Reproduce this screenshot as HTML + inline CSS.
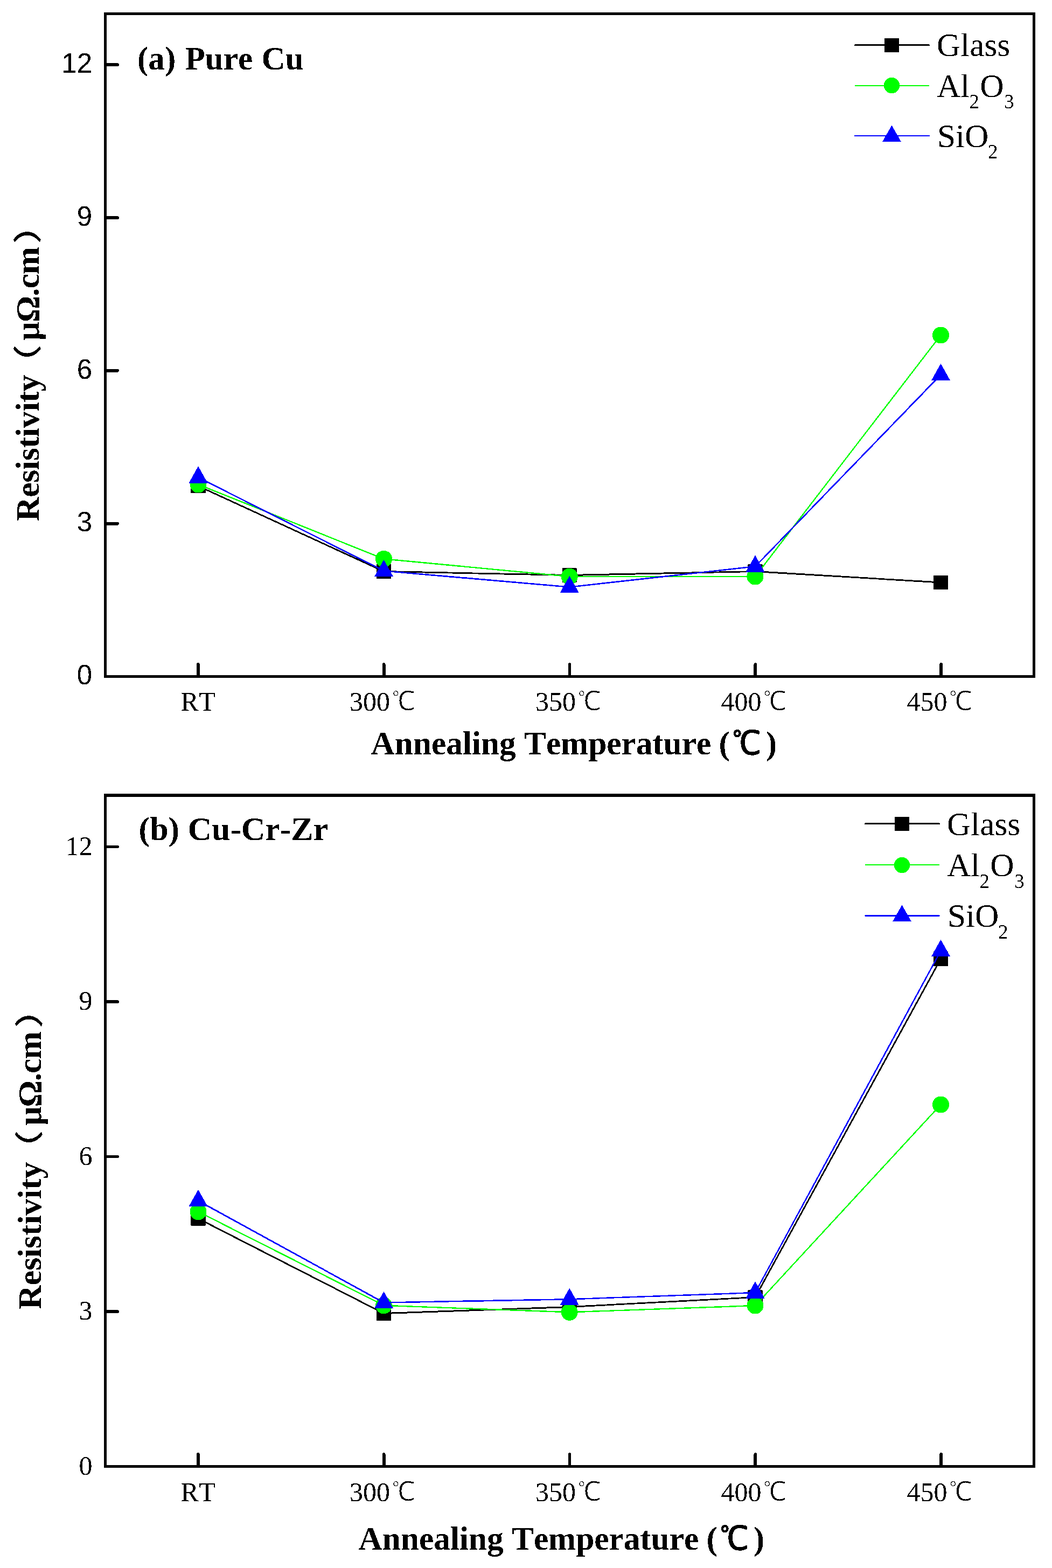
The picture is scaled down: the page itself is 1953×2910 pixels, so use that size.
<!DOCTYPE html>
<html lang="en">
<head>
<meta charset="utf-8">
<title>Resistivity vs Annealing Temperature</title>
<style>
html,body{margin:0;padding:0;background:#fff}
body{width:1953px;height:2910px;overflow:hidden}
svg{display:block}
text{fill:#000;font-family:"Liberation Serif", "Noto Serif CJK SC", serif;white-space:pre;font-kerning:none;font-variant-ligatures:none;stroke:#000;stroke-width:0;stroke-linejoin:round}
.ya{font-family:"Liberation Sans", "Noto Sans CJK SC", sans-serif;font-size:51px}
.yb{font-size:50px}
.xt{font-size:50px}
.dc{font-family:"Liberation Serif", "WenQuanYi Zen Hei", "Noto Sans CJK SC", sans-serif;font-size:49.5px;stroke:#fff;stroke-width:1.1px}
.dcb{font-family:"Liberation Serif", "WenQuanYi Zen Hei", "Noto Sans CJK SC", sans-serif;font-size:61.5px;font-weight:400;stroke:#000;stroke-width:1.5px}
.bt{font-weight:700}
.fw{font-family:"Liberation Serif", "Noto Sans CJK SC", "WenQuanYi Zen Hei", sans-serif;font-weight:500;font-size:53px;letter-spacing:0}
.lg{font-size:61.3px}
.sb{font-size:37px}
</style>
</head>
<body>
<svg width="1953" height="2910" viewBox="0 0 1953 2910">
<defs>
<filter id="bin" x="0" y="0" width="1953" height="2910" filterUnits="userSpaceOnUse" color-interpolation-filters="sRGB"><feComponentTransfer><feFuncA type="discrete" tableValues="0 1"/></feComponentTransfer></filter>
<filter id="bk" x="0" y="0" width="1953" height="2910" filterUnits="userSpaceOnUse" color-interpolation-filters="sRGB"><feComponentTransfer><feFuncR type="discrete" tableValues="0 1"/><feFuncG type="discrete" tableValues="0 1"/><feFuncB type="discrete" tableValues="0 1"/><feFuncA type="discrete" tableValues="0 1"/></feComponentTransfer></filter>
</defs>
<rect width="1953" height="2910" fill="#fff"/>
<g filter="url(#bk)">
<rect x="195.5" y="25.5" width="1724" height="1230" fill="none" stroke="#000" stroke-width="5"/>
<path d="M196 971.65H218.2M196 687.81H218.2M196 403.97H218.2M196 120.12H218.2M367.9 1255V1232.7M712.7 1255V1232.7M1057.5 1255V1232.7M1402.3 1255V1232.7M1747.1 1255V1232.7" fill="none" stroke="#000" stroke-width="5.6" stroke-linecap="round"/>
<text class="ya" x="171" y="1270.3" text-anchor="end">0</text>
<text class="ya" x="171" y="986.45" text-anchor="end">3</text>
<text class="ya" x="171" y="702.61" text-anchor="end">6</text>
<text class="ya" x="171" y="418.77" text-anchor="end">9</text>
<text class="ya" x="171" y="134.92" text-anchor="end">12</text>
<text class="xt" x="335.2" y="1318.6" style="letter-spacing:.9px">RT</text>
<text class="xt" x="649" y="1318.6">300<tspan class="dc" dx="3.5" dy="-0.5" textLength="43.5" lengthAdjust="spacingAndGlyphs">℃</tspan></text>
<text class="xt" x="994" y="1318.6">350<tspan class="dc" dx="3.5" dy="-0.5" textLength="43.5" lengthAdjust="spacingAndGlyphs">℃</tspan></text>
<text class="xt" x="1338.5" y="1318.6">400<tspan class="dc" dx="3.5" dy="-0.5" textLength="43.5" lengthAdjust="spacingAndGlyphs">℃</tspan></text>
<text class="xt" x="1683.5" y="1318.6">450<tspan class="dc" dx="3.5" dy="-0.5" textLength="43.5" lengthAdjust="spacingAndGlyphs">℃</tspan></text>
<text class="bt" style="font-size:61.1px" x="255" y="128.7">(a)<tspan dx="2"> Pure</tspan><tspan dx="1.2"> Cu</tspan></text>
<text class="bt" style="font-size:61.3px" x="688.6" y="1399.8">Annealing Temperature <tspan dx="-1">(</tspan><tspan class="dcb" dx="5" dy="0" textLength="52" lengthAdjust="spacingAndGlyphs">℃</tspan><tspan dx="9.8" dy="0">)</tspan></text>
<text class="bt" style="font-size:61.5px;letter-spacing:-0.2px" transform="translate(72 967) rotate(-90)">Resistivity<tspan class="fw" dx="-15" dy="-1.5" textLength="72" lengthAdjust="spacingAndGlyphs">（</tspan><tspan dx="7" dy="1.5" style="letter-spacing:-1.05px">μΩ.cm</tspan><tspan class="fw" dx="6.2" dy="-1.5" textLength="72" lengthAdjust="spacingAndGlyphs">）</tspan></text>
<polyline points="368,902 712.5,1060.5 1057.2,1067.5 1402,1060.5 1746.5,1081" fill="none" stroke="#000" stroke-width="2.8" stroke-linejoin="round"/>
<rect x="354.5" y="888.8" width="27" height="26.4"/>
<rect x="699" y="1047.3" width="27" height="26.4"/>
<rect x="1043.7" y="1054.3" width="27" height="26.4"/>
<rect x="1388.5" y="1047.3" width="27" height="26.4"/>
<rect x="1733" y="1067.8" width="27" height="26.4"/>
<line x1="1587.5" y1="83.5" x2="1724.5" y2="83.5" stroke="#000" stroke-width="3" stroke-linecap="round"/>
<rect x="1642" y="70.8" width="27" height="26.4"/>
<text class="lg" x="1739" y="103.9">Glass</text>
<text class="lg" x="1739" y="180">Al<tspan class="sb" dy="21" dx="-1">2</tspan><tspan dy="-21" dx="1.5">O</tspan><tspan class="sb" dy="21" dx="0.5">3</tspan></text>
<text class="lg" x="1740" y="273">SiO<tspan class="sb" dy="21" dx="-1.5">2</tspan></text>
<rect x="195.5" y="1475.5" width="1724" height="1246" fill="none" stroke="#000" stroke-width="5"/>
<rect x="193" y="1473" width="1729" height="6"/>
<path d="M196 2434.01H218.2M196 2146.52H218.2M196 1859.03H218.2M196 1571.54H218.2M367.9 2721V2698.7M712.7 2721V2698.7M1057.5 2721V2698.7M1402.3 2721V2698.7M1747.1 2721V2698.7" fill="none" stroke="#000" stroke-width="5.6" stroke-linecap="round"/>
<text class="yb" x="171.5" y="2736.8" text-anchor="end">0</text>
<text class="yb" x="171.5" y="2449.31" text-anchor="end">3</text>
<text class="yb" x="171.5" y="2161.82" text-anchor="end">6</text>
<text class="yb" x="171.5" y="1874.33" text-anchor="end">9</text>
<text class="yb" x="171.5" y="1586.84" text-anchor="end">12</text>
<text class="xt" x="335.2" y="2785.5" style="letter-spacing:.9px">RT</text>
<text class="xt" x="649" y="2785.5">300<tspan class="dc" dx="3.5" dy="-0.5" textLength="43.5" lengthAdjust="spacingAndGlyphs">℃</tspan></text>
<text class="xt" x="994" y="2785.5">350<tspan class="dc" dx="3.5" dy="-0.5" textLength="43.5" lengthAdjust="spacingAndGlyphs">℃</tspan></text>
<text class="xt" x="1338.5" y="2785.5">400<tspan class="dc" dx="3.5" dy="-0.5" textLength="43.5" lengthAdjust="spacingAndGlyphs">℃</tspan></text>
<text class="xt" x="1683.5" y="2785.5">450<tspan class="dc" dx="3.5" dy="-0.5" textLength="43.5" lengthAdjust="spacingAndGlyphs">℃</tspan></text>
<text class="bt" style="font-size:61.7px" x="257.6" y="1559.2">(b) Cu-Cr-Zr</text>
<text class="bt" style="font-size:61.3px" x="665.6" y="2875.8">Annealing Temperature <tspan dx="-1">(</tspan><tspan class="dcb" dx="5" dy="0" textLength="52" lengthAdjust="spacingAndGlyphs">℃</tspan><tspan dx="9.8" dy="0">)</tspan></text>
<text class="bt" style="font-size:62px;letter-spacing:-0.2px" transform="translate(76 2429.8) rotate(-90)">Resistivity<tspan class="fw" dx="-12.5" dy="-1.6" textLength="72" lengthAdjust="spacingAndGlyphs">（</tspan><tspan dx="8.5" dy="1.6" style="letter-spacing:-1.3px">μΩ.cm</tspan><tspan class="fw" dx="7.4" dy="-1.6" textLength="72" lengthAdjust="spacingAndGlyphs">）</tspan></text>
<polyline points="368,2261.5 712.5,2437.5 1057.2,2425.5 1402,2407.5 1746.5,1779.5" fill="none" stroke="#000" stroke-width="2.8" stroke-linejoin="round"/>
<rect x="354.5" y="2248.3" width="27" height="26.4"/>
<rect x="699" y="2424.3" width="27" height="26.4"/>
<rect x="1043.7" y="2412.3" width="27" height="26.4"/>
<rect x="1388.5" y="2394.3" width="27" height="26.4"/>
<rect x="1733" y="1766.3" width="27" height="26.4"/>
<line x1="1606.5" y1="1528.5" x2="1743.5" y2="1528.5" stroke="#000" stroke-width="3" stroke-linecap="round"/>
<rect x="1661" y="1515.8" width="27" height="26.4"/>
<text class="lg" x="1758" y="1549.9">Glass</text>
<text class="lg" x="1758" y="1625.9">Al<tspan class="sb" dy="22.3" dx="-1">2</tspan><tspan dy="-22.3" dx="1.5">O</tspan><tspan class="sb" dy="22.3" dx="0.5">3</tspan></text>
<text class="lg" x="1759" y="1720">SiO<tspan class="sb" dy="22.3" dx="-1.5">2</tspan></text>
</g>
<g filter="url(#bin)">
<polyline points="368,899 712.5,1037.3 1057.2,1070 1402,1070 1746.5,622" fill="none" stroke="#0f0" stroke-width="2.4" stroke-linejoin="round"/>
<circle cx="368" cy="899" r="15.5" fill="#0f0"/>
<circle cx="712.5" cy="1037.3" r="15.5" fill="#0f0"/>
<circle cx="1057.2" cy="1070" r="15.5" fill="#0f0"/>
<circle cx="1402" cy="1070" r="15.5" fill="#0f0"/>
<circle cx="1746.5" cy="622" r="15.5" fill="#0f0"/>
<line x1="1587.5" y1="159" x2="1724.5" y2="159" stroke="#0f0" stroke-width="2" stroke-linecap="round"/>
<circle cx="1655.5" cy="158.5" r="14.7" fill="#0f0"/>
<polyline points="368,2248.7 712.5,2422.7 1057.2,2435.3 1402,2423 1746.5,2050" fill="none" stroke="#0f0" stroke-width="2.4" stroke-linejoin="round"/>
<circle cx="368" cy="2248.7" r="15.5" fill="#0f0"/>
<circle cx="712.5" cy="2422.7" r="15.5" fill="#0f0"/>
<circle cx="1057.2" cy="2435.3" r="15.5" fill="#0f0"/>
<circle cx="1402" cy="2423" r="15.5" fill="#0f0"/>
<circle cx="1746.5" cy="2050" r="15.5" fill="#0f0"/>
<line x1="1606.5" y1="1605" x2="1743.5" y2="1605" stroke="#0f0" stroke-width="2" stroke-linecap="round"/>
<circle cx="1674.5" cy="1605.5" r="14.7" fill="#0f0"/>
</g>
<g filter="url(#bin)">
<polyline points="368,886 712.5,1059.5 1057.2,1089.5 1402,1051.3 1746.5,695.5" fill="none" stroke="#00f" stroke-width="2.6" stroke-linejoin="round"/>
<path d="M368 865.3L385.5 896.5H350.5Z" fill="#00f"/>
<path d="M712.5 1038.8L730 1070H695Z" fill="#00f"/>
<path d="M1057.2 1068.8L1074.7 1100H1039.7Z" fill="#00f"/>
<path d="M1402 1030.6L1419.5 1061.8H1384.5Z" fill="#00f"/>
<path d="M1746.5 674.8L1764 706H1729Z" fill="#00f"/>
<line x1="1587.5" y1="252" x2="1724.5" y2="252" stroke="#00f" stroke-width="2.4" stroke-linecap="round"/>
<path d="M1655.5 232.8L1672.8 263H1638.2Z" fill="#00f"/>
<polyline points="368,2228.5 712.5,2417.5 1057.2,2411.2 1402,2399 1746.5,1764.5" fill="none" stroke="#00f" stroke-width="2.6" stroke-linejoin="round"/>
<path d="M368 2207.8L385.5 2239H350.5Z" fill="#00f"/>
<path d="M712.5 2396.8L730 2428H695Z" fill="#00f"/>
<path d="M1057.2 2390.5L1074.7 2421.7H1039.7Z" fill="#00f"/>
<path d="M1402 2378.3L1419.5 2409.5H1384.5Z" fill="#00f"/>
<path d="M1746.5 1743.8L1764 1775H1729Z" fill="#00f"/>
<line x1="1606.5" y1="1699.5" x2="1743.5" y2="1699.5" stroke="#00f" stroke-width="2.4" stroke-linecap="round"/>
<path d="M1674.5 1679.8L1691.8 1710H1657.2Z" fill="#00f"/>
</g>
</svg>
</body>
</html>
